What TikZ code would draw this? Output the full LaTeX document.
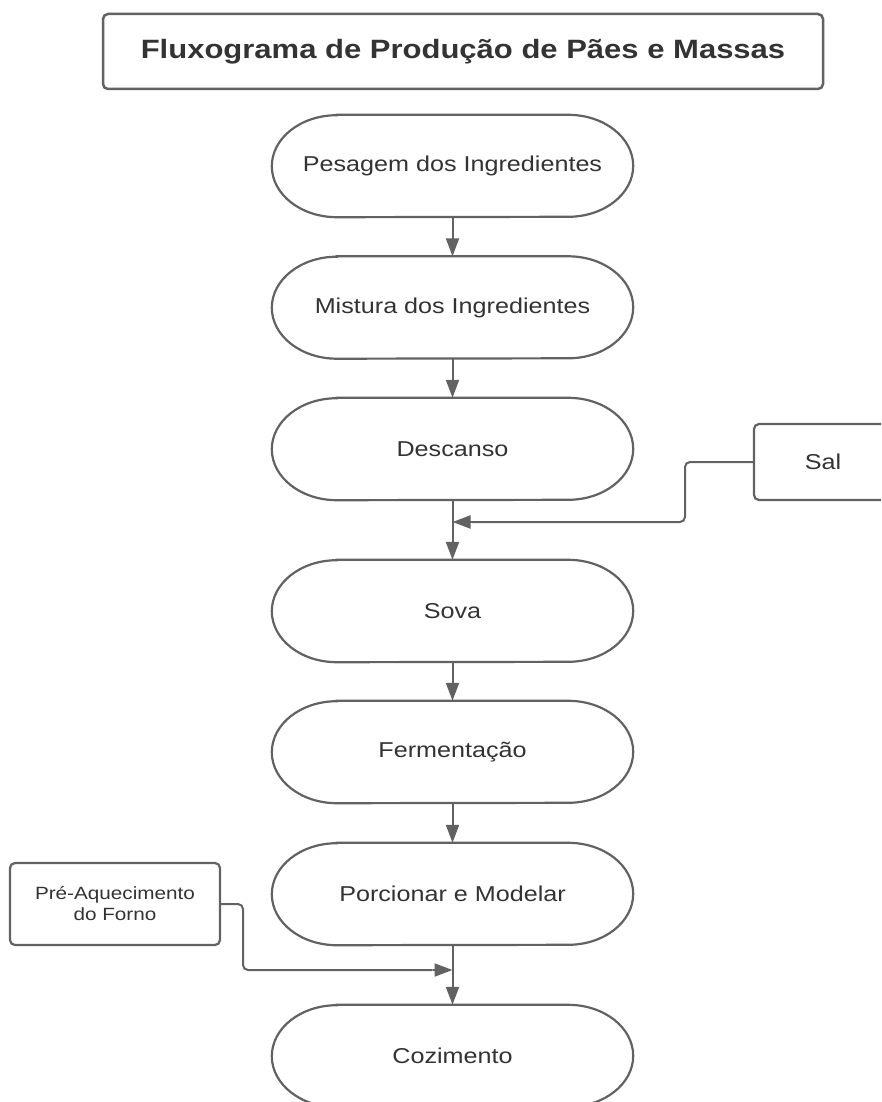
\documentclass[tikz,border=0pt]{standalone}
\usepackage{fontspec}
\setmainfont{Liberation Sans}[FakeStretch=1.17]
\usetikzlibrary{arrows.meta}
\definecolor{linec}{HTML}{626262}
\definecolor{textc}{HTML}{333333}
\tikzset{
  stadium/.style={rectangle, draw=none, minimum width=361pt, minimum height=102pt, inner sep=0pt,
    text=textc, font=\fontsize{21.5}{25}\selectfont},
  stadborder/.style={draw=linec, line width=2.2pt},
  sidebox/.style={rectangle, draw=linec, line width=2.2pt, rounded corners=5pt, inner sep=0pt,
    text=textc, align=center},
  arr/.style={draw=linec, line width=2pt, -{Triangle[length=18pt,width=13pt]}},
  conn/.style={draw=linec, line width=2pt, rounded corners=5pt}
}
\begin{document}
\begin{tikzpicture}[x=1pt,y=-1pt]
\useasboundingbox (0,0) rectangle (881,1102);
\clip (0,0) rectangle (881,1102);
\fill[white] (0,0) rectangle (881,1102);

% title
\node[sidebox, line width=2.5pt, minimum width=720pt, minimum height=75pt,
  font=\fontsize{26.5}{30}\selectfont\bfseries] (title) at (463,51.5)
  {Fluxograma de Produção de Pães e Massas};

% main steps
\node[stadium] (pes) at (452.5,166) {Pesagem dos Ingredientes};
\node[stadium] (mis) at (452.5,307.5) {Mistura dos Ingredientes};
\node[stadium] (des) at (452.5,449) {Descanso};
\node[stadium] (sov) at (452.5,611) {Sova};
\node[stadium] (fer) at (452.5,752) {Fermentação};
\node[stadium] (por) at (452.5,894) {Porcionar e Modelar};
\node[stadium] (coz) at (452.5,1056) {Cozimento};

\foreach \n in {pes,mis,des,sov,fer,por,coz}{
  \draw[stadborder] ([xshift=65pt]\n.north west) -- ([xshift=-65pt]\n.north east)
    arc[start angle=90,end angle=-90,x radius=65pt,y radius=51pt]
    -- ([xshift=65pt]\n.south west)
    arc[start angle=270,end angle=90,x radius=65pt,y radius=51pt] -- cycle;
}

% side inputs
\node[sidebox, minimum width=138pt, minimum height=76pt, font=\fontsize{21.5}{25}\selectfont] (sal) at (823,462) {Sal};
\node[sidebox, minimum width=210pt, minimum height=82pt, font=\fontsize{17.7}{21}\selectfont] (pre) at (115,904) {Pré-Aquecimento\\do Forno};

% main arrows
\draw[arr] (pes.south) -- (mis.north);
\draw[arr] (mis.south) -- (des.north);
\draw[arr] (des.south) -- (sov.north);
\draw[arr] (sov.south) -- (fer.north);
\draw[arr] (fer.south) -- (por.north);
\draw[arr] (por.south) -- (coz.north);

% Sal connector
\coordinate (salk) at (685,522);
\coordinate (salj) at (452.5,522);
\draw[conn] (sal.west) -| (salk) -- ([xshift=20pt]salj);
\draw[arr] ([xshift=20pt]salj) -- (salj);

% Pre-aquecimento connector
\coordinate (prek) at (243,970);
\coordinate (prej) at (452.5,970);
\draw[conn] (pre.east) -| (prek) -- ([xshift=-20pt]prej);
\draw[arr] ([xshift=-20pt]prej) -- (prej);
\end{tikzpicture}
\end{document}
